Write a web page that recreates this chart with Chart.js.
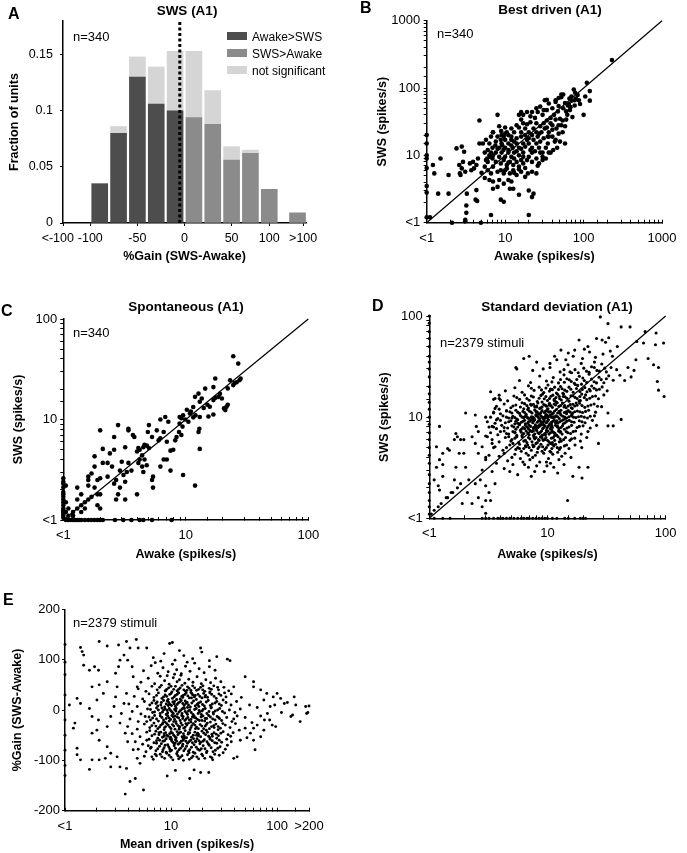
<!DOCTYPE html>
<html>
<head>
<meta charset="utf-8">
<script src="https://cdn.jsdelivr.net/npm/chart.js"></script>
<style>
  body { margin: 0; background: #fff; }
  #fig { position: relative; width: 687px; height: 853px; font-family: "Liberation Sans", Arial, Helvetica, sans-serif; color: #000; overflow: hidden; }
  #fig canvas { position: absolute; }
  .t { position: absolute; white-space: nowrap; line-height: 1; }
  .letter { font-weight: bold; font-size: 16px; }
  .title { font-weight: bold; font-size: 13.5px; transform: translateX(-50%); }
  .n { font-size: 13px; }
  .leg { font-size: 12px; }
  .sw { position: absolute; width: 20px; height: 8px; }
</style>
</head>
<body>
<div id="fig">
  <canvas id="cA" width="340" height="270" style="left:0;top:0"></canvas>
  <canvas id="cB" width="347" height="270" style="left:340px;top:0"></canvas>
  <canvas id="cC" width="340" height="285" style="left:0;top:280px"></canvas>
  <canvas id="cD" width="347" height="285" style="left:340px;top:280px"></canvas>
  <canvas id="cE" width="340" height="288" style="left:0;top:565px"></canvas>

  <div class="t letter" style="left:8px;top:6px">A</div>
  <div class="t letter" style="left:360px;top:0px">B</div>
  <div class="t letter" style="left:1px;top:303px">C</div>
  <div class="t letter" style="left:372px;top:298px">D</div>
  <div class="t letter" style="left:3px;top:592px">E</div>

  <div class="t title" style="left:187px;top:4px">SWS (A1)</div>
  <div class="t title" style="left:550px;top:3px">Best driven (A1)</div>
  <div class="t title" style="left:186px;top:300px">Spontaneous (A1)</div>
  <div class="t title" style="left:557px;top:300px">Standard deviation (A1)</div>

  <div class="t n" style="left:73px;top:30px">n=340</div>
  <div class="t n" style="left:437px;top:27px">n=340</div>
  <div class="t n" style="left:73px;top:326px">n=340</div>
  <div class="t n" style="left:440px;top:336px">n=2379 stimuli</div>
  <div class="t n" style="left:73px;top:616px">n=2379 stimuli</div>

  <div class="sw" style="left:227px;top:32px;background:#4d4d4d"></div>
  <div class="sw" style="left:227px;top:49px;background:#8b8b8b"></div>
  <div class="sw" style="left:227px;top:66px;background:#d5d5d5"></div>
  <div class="t leg" style="left:252px;top:31px">Awake&gt;SWS</div>
  <div class="t leg" style="left:252px;top:48px">SWS&gt;Awake</div>
  <div class="t leg" style="left:252px;top:65px">not significant</div>
</div>

<script>
// ---- A: histogram of %gain (fractions of 340 units)
const gainBins = [-90, -70, -50, -30, -10, 10, 30, 50, 70, 90, 120];
const awakeGreater = [0.035, 0.080, 0.130, 0.106, 0.100, null, null, null, null, null, null];
const swsGreater = [null, null, null, null, null, 0.094, 0.088, 0.056, 0.062, 0.030, 0.009];
const notSignificant = [0, 0.006, 0.018, 0.033, 0.053, 0.059, 0.030, 0.012, 0.003, 0, 0];
const gainTickValues = [-129, -100, -50, 0, 50, 90, 126];
const gainTickLabels = ['<-100   ', '-100', '-50', '0', '50', '100', '>100'];
const fractionTicks = [0, 0.05, 0.1, 0.15];
const medianGain = -5;

// ---- B: best driven rate, [awake, sws] spikes/s
const bestDriven = [
  [230,260],[110,120],[120,90],[105,75],[120,65],[100,40],
  [75,95],[78,85],[66,70],[70,65],[58,60],[63,55],[72,37],
  [52,80],[52,73],[44,62],[48,54],[40,50],
  [32,66],[34,47],[28,53],[30,40],[26,44],[22,44],[24,36],[21,38],[19,44],[17,40],[15,40],[16,34],[21,31],[25,30],[28,27],[32,25],[36,22],[40,28],[44,34],[48,28],[54,22],[58,27],[54,33],[48,21],[44,17],[40,19],[35,15],[31,18],[27,21],[25,22],[22,20],[20,22],[18,25],[16,22],[15,26],[13,22],[12,19],[12,17],[10.5,22],[9.6,19],[8.8,17],[8,19],[7,22],[6.6,19],[6.3,15],[6.9,13],[7.6,16],[8.4,13],[9.2,14],[10,13],[11,15],[12.5,13],[14,15],[15,13],[17,15],[19,17],[20,15],[22,13],[25,15],[27,13],[30,11],[33,13],[36,11],[41,12],[46,13],[50,16],[36,19],
  [17,11],[15,10],[13,11],[12,9.5],[11,11],[10,9.5],[9,11],[8.4,9.5],[7.6,11],[6.9,9],[6.3,10],[5.7,8.5],[7.6,8],[8.8,7.6],[9.6,8.5],[10.5,7.2],[11.5,8],[12.7,7.2],[14,8],[15,6.8],[17,7.6],[19,8.5],[20,9.5],[22,11],[25,9],[27,7.6],[30,9.5],[33,9],[38,11],[43,16],[58,15],
  [7,6.8],[8,5.7],[8.8,6],[9.6,5.4],[10.5,6.4],[11.5,5.4],[12.7,6],[14,5.1],[16,5.7],[18,4.8],[19.5,5.4],[22,5.7],[25,5.4],[26,7],[30,8.5],[17,9.5],[15,6.2],
  [5.5,4.6],[6.3,4.3],[7,4.1],[8.4,4.3],[9.6,3.8],[11,4.3],[12,4.1],[6.6,5.4],[6,6],[11.5,3.2],[8,3.4],[7,3.2],[12.7,3.2],[20,3],[23,2.7],[22,2.4],[15,2.6],[8.8,2.2],[9.6,2.05],[4.3,3.05],[4.2,2.2],[4.4,2.1],[3.2,1.8],[3.2,1.4],[3.1,1.1],[6.6,1.3],[20,1.3],[2.1,1],[3.1,1.05],[4.9,1],[1.1,1.2],
  [1.2,7.2],[1.25,5.4],[1.4,2.7],[1.5,9],[1.9,5.1],[1.9,2.7],[2.4,12.7],[2.6,7.2],[2.65,5.4],[2.8,13.5],[3,11.3],[2.9,8],[2.8,6.4],[2.7,5.1],[3.1,5.7],[3.25,2.7],[3.55,7.6],[3.9,8],[4,6.4],[4.3,7.2],[3.7,6],[4.5,9],[4.7,15],[5.2,15],[4.7,33],[5.7,17],[6,12],[5.9,9],[5.5,6.8],[6.6,11],[7,22],[8,40],[8.4,27],[8.9,23],[10,21],[11,20],
  [1,20],[1,15],[1,10],[1,9],[1,6.5],[1,3.5],[1,2.8],[1,1.2],
  [16,44],[25,50],[31,47],[34,67],[36,59],[44,66],[48,71],[55,80],[77,66],[84,79],[77,55],[70,75],[67,47],[87,66],
  [9,15],[10,17],[11,12],[12,14],[13,16],[14,18],[16,19],[18,20],[20,18],[23,17],[26,19],[29,22],[31,30],[34,33],[38,36],[42,40],[47,45],[55,50],[60,45],[65,58],
  [13,9],[14,11.5],[16,12.5],[18,13.5],[21,12],[24,11.5],[28,16],[34,26],[38,30],[45,25],[50,35],[62,40],[68,52],[80,70],[90,58],
  [9.5,12],[8,12.5],[7,10],[6,8],[5,5.5],[10,6],[11,7.8],[13,5.5],[16,8.5],[18,6.5],[22,8],[28,11],[35,19],[40,24],[52,28],[60,34],
  [23,25],[19,29],[17,30],[14,28],[12,25],[10,26],[9,20],[7.5,14],[6.5,9.5],[5.5,11]
];

// ---- C: spontaneous rate, [awake, sws] spikes/s
const spontaneous = [
  [24.4,42.6],[26.8,36],[23,24.6],[24.4,22],[27.4,24.6],[28,25.5],[22,20.4],[21.5,13.4],[20.5,12.9],[22,14],[21,12.4],
  [17.4,25.6],[16.8,21],[18.5,16.8],[19.7,16.2],[16.8,15.6],[15.7,13.4],[16.8,11.2],[15.3,10.7],[14.4,20.3],[12.7,18.1],[13.5,16.2],[11.9,16.8],[11.5,13.3],[13,15],
  [13,10.6],[12.9,8.1],[12.7,7.5],[13,5.1],[11.9,2.2],[9.5,2.8],
  [10.2,12.5],[9.5,11],[8.9,10.6],[9.2,10.3],[9.9,10],[10.5,9.5],[8.9,9.1],[9.4,8.5],[8.8,7.5],[9.2,7],[8.4,6.7],[8.2,6.2],[7.9,5],[7.5,4.9],[7,6],[7.2,9.5],[6.8,10.6],[6.2,10],[5.8,7.8],[6.6,7.5],[6.2,6.5],[6,6.2],[7,4],[7.5,3.1],[6.6,4],[6.2,3.4],[5.4,2.7],[5.3,2.5],[5.4,2.1],[5,8.8],[5.3,6.7],[4.9,7.5],[4.5,5.3],[4.2,5],[4.1,5.2],[4,4.8],[4.4,4.4],[4.6,4],[4.8,3.5],[4.2,4],[4.1,3.7],[4.5,3],[4.4,3.4],[3.8,6.7],[3.7,7],[3.4,7.8],[3.4,8.1],[2.8,8.8],[2.6,6.7],[2,7.8],[3.2,5.3],[3,3.8],[3.4,3.7],[3.6,3.1],[3.3,3],[3.1,2.8],[2.9,3.1],[2.7,2.5],[2.6,2.3],[2.9,2.1],[3.2,2.4],[2.8,1.8],[2.7,1.6],[3.2,1.6],[4,1.8],[2.4,4.6],[2.3,3.7],[2.1,3.7],[2.5,3.4],[2.6,5],[2.1,5.1],[2.3,2.7],[2,2.6],[1.9,2.5],[1.8,4.3],[1.8,3.4],[1.7,2.9],[1.6,2.7],[1.6,2.5],[1.6,2.2],[1.8,2.1],[2,1.8],[1.9,1.8],[1.7,1.7],[1.6,1.6],[1.5,1.5],[1.4,1.8],[1.3,2.1],[1.3,1.6],[1.5,1.3],[1.4,1.2],[1.3,1.3],[1.2,1.2],[1.2,1.1],[1.1,1.3],[1.1,1.1],[1.2,1.1],[2,1.3],[1.9,1.4],[1.4,1.4],
  [11,12],[12,11],[10.8,11.5],[11.5,10.5],[14,13],[15,14],[17.5,16.5],[19,18],[25,23],[26,23.5],[4.8,5.5],[5,5.2],[4.6,5.6],
  [1,2.6],[1,2.4],[1,2.3],[1,2.1],[1,1.9],[1,1.8],[1,1.7],[1,1.6],[1,1.5],[1,1.4],[1,1.3],[1,1.25],[1,1.2],[1,1.15],[1,1.1],[1,1.05],[1.05,2.2],[1.05,1.5],[1.05,1.2],
  [1.05,1],[1.1,1],[1.15,1],[1.2,1],[1.25,1],[1.3,1],[1.35,1],[1.4,1],[1.5,1],[1.6,1],[1.7,1],[1.8,1],[1.9,1],[2,1],[2.1,1],[2.64,1],[3.09,1],[3.6,1],[4.2,1],[4.5,1],[5.3,1],[7.65,1]
];

// ---- D: standard deviation per stimulus, [awake, sws] spikes/s
// sparse points round the cloud, the axes and the far corners
const sdSparse = [
  [28,98],[32.5,84],[42,78],[50,78],[67,70],[83,68],[82,52],[65,54],[57,56],[96,54],[79,33],[87,31],[85,22.5],[97,16],[87,18.5],[71,38],[56,37],[54,29],[48,31],[51,25],[45,23],[41,26],[33,61],[31,55],[29,58],[26,60],[39,50],[34,45],[22,50],[17,46],[18.5,58],[15,43],[13,46],[11.5,40],[14.3,37],[10.5,34],[8.1,35],[6.3,38],[5.5,30],[7,40],[5.4,31],[9.2,30],
  [42,9.5],[36,8.2],[32.5,8.2],[27,5.5],[23,10.2],[28.7,12.7],[32.5,11],[19.6,2.5],[16.4,2.6],[14.8,1.5],[18.5,3.2],[22,3.2],
  [1.15,5.1],[1.22,3.8],[1.3,2.6],[1.22,1.9],[1.39,1.6],[1.53,1.8],[1.63,2.4],[1.68,3.2],[1.48,4.7],[1.43,4.9],[1.68,6.9],[1.73,6.4],[1.84,6],[1.79,4.4],[1.96,6],[1.96,4.4],[2.03,3.2],[2.16,2.4],[2.1,1.8],[1.9,1.4],[2.3,1.4],[2.03,11],[2.45,10.5],[2.5,8.1],[2.6,7.2],[2.3,6.4],[2.45,5.5],[2.6,4.4],[2.8,5.1],[3,3.8],[2.8,3],[2.45,2.2],[2.7,2.4],[3,2.1],[3.2,1.8],[3.3,1.5],[3,1.5],[2.6,1.6],[3.6,2.2],[3.4,2.9],[3.7,3.5],[3.2,4.2],[3.4,5.5],[3.1,6.4],[3.4,8.1],[3.7,9.4],[3.6,12.2],[3.6,15.3],[3.9,16.5],[3.3,17.8],[4,14.8],[1.63,6],[1.22,8.1],[1.3,4.4],[1.04,1.1],[1.1,1.2],[1.19,1.3],[1.26,1.4],[1.43,1.6],[1.58,1.8],[1.73,2],[1.84,2.2],[1.15,3.2],[1.3,3.4],[1.1,2.4],[1.19,2.1],[2.8,1.3],[3,1.12],
  [3.5,5],[3.5,8],[3.5,11],[3.5,15],[3,4],[3,6.5],[3,10],
  [1,1.1],[1,1.3],[1,1.5],[1,1.8],[1,2.2],[1,2.7],[1,3.5],[1,4.2],[1,5],[1,6],[1,7],[1,8.5],[1,10],[1,12],[1,14],[1,17],[1,20],[1,25],[1,30],[1,35],[1,40],[1,50],[1,60],[1,70],[1,85],[1,100],
  [1.1,1],[1.3,1],[1.5,1],[2.8,1],[3,1],[3.2,1],[3.5,1],[3.8,1],[4,1],[4.2,1],[4.5,1],[4.8,1],[5.2,1],[5.6,1],[6,1],[6.3,1],[6.7,1],[7,1],[7.5,1],[8,1],[8.5,1],[9,1],[9.5,1],[10,1],[11,1],[12,1],[14,1],[15,1],[17,1],[19,1],[20,1],[21,1]
];
// dense cloud of D, read band by band from low to high sws
const sdCloud = [
  [4.3,3.1],[5.6,2.7],[6.4,3.4],[7.3,2.6],[8.1,3.3],[9.4,2.9],[10.6,3.5],[12.2,2.8],[5.1,3.4],[7.8,2.9],[11.3,3.2],[13.8,3.4],[6.9,3.2],[9.9,3.3],[4.8,2.9],
  [3.9,4.1],[4.6,3.7],[5.3,4.3],[5.9,3.9],[6.6,4.4],[7.1,3.8],[7.9,4.2],[8.6,3.6],[9.3,4.4],[10.2,3.9],[11.1,4.3],[12.5,3.8],[14.1,4.4],[15.8,4.0],[5.0,4.0],[6.2,3.6],[8.2,4.5],[9.8,3.6],[13.2,4.1],[4.3,4.4],[7.5,4.0],[10.7,4.5],
  [3.6,5.1],[4.2,4.7],[4.8,5.3],[5.4,4.8],[5.8,5.4],[6.3,4.9],[6.8,5.3],[7.3,4.7],[7.7,5.2],[8.3,4.9],[8.8,5.4],[9.5,4.8],[10.1,5.3],[10.9,4.9],[11.7,5.4],[12.6,4.8],[13.9,5.2],[15.2,4.9],[17.1,5.3],[19.5,5.0],[4.5,5.0],[5.1,5.5],[6.0,4.6],[7.0,5.0],[8.0,5.5],[9.1,5.1],[10.5,4.6],[11.3,5.2],[12.1,5.0],
  [3.4,6.0],[3.9,5.7],[4.4,6.3],[4.9,5.8],[5.3,6.2],[5.7,5.6],[6.1,6.4],[6.5,5.9],[6.9,6.3],[7.4,5.7],[7.8,6.1],[8.2,5.6],[8.7,6.4],[9.2,5.9],[9.7,6.3],[10.3,5.7],[10.8,6.2],[11.5,5.9],[12.3,6.4],[13.1,5.8],[14.2,6.3],[15.5,5.9],[17.0,6.2],[19.0,5.8],[21.5,6.3],[5.5,6.4],[6.7,5.6],[8.0,6.3],[9.5,6.0],[11.0,5.6],[12.8,6.1],
  [3.3,7.0],[3.8,6.7],[4.3,7.3],[4.7,6.8],[5.1,7.2],[5.5,6.6],[5.9,7.4],[6.3,6.9],[6.6,7.3],[7.0,6.7],[7.4,7.2],[7.8,6.8],[8.1,7.4],[8.5,6.9],[8.9,7.3],[9.3,6.7],[9.8,7.1],[10.3,6.8],[10.9,7.4],[11.6,6.9],[12.4,7.3],[13.3,6.8],[14.4,7.2],[15.7,6.9],[17.3,7.3],[19.3,6.8],[22.0,7.2],[6.1,6.6],[7.6,6.6],[9.0,6.6],[10.6,7.0],[12.0,6.6],[4.0,7.2],[8.3,7.0],[11.2,7.1],
  [3.2,8.0],[3.7,7.7],[4.1,8.3],[4.6,7.8],[5.0,8.2],[5.4,7.6],[5.8,8.4],[6.2,7.9],[6.5,8.3],[6.9,7.7],[7.2,8.1],[7.6,7.8],[7.9,8.4],[8.3,7.9],[8.7,8.3],[9.1,7.7],[9.5,8.2],[9.9,7.8],[10.4,8.4],[11.0,7.9],[11.7,8.3],[12.5,7.7],[13.4,8.2],[14.6,7.8],[16.0,8.3],[17.8,7.9],[20.0,8.2],[23.0,7.8],[26.0,8.3],[5.2,8.0],[6.7,8.0],[8.0,7.6],[9.3,8.4],[10.7,8.1],[12.1,8.0],[13.9,7.6],
  [3.1,9.0],[3.6,8.7],[4.0,9.3],[4.4,8.8],[4.9,9.2],[5.3,8.6],[5.6,9.4],[6.0,8.9],[6.4,9.3],[6.8,8.7],[7.1,9.1],[7.5,8.8],[7.8,9.4],[8.2,8.9],[8.6,9.3],[9.0,8.7],[9.4,9.2],[9.8,8.8],[10.2,9.4],[10.8,8.9],[11.4,9.3],[12.2,8.7],[13.1,9.2],[14.1,8.8],[15.3,9.3],[16.8,8.9],[18.6,9.2],[20.8,8.8],[24.0,9.3],[5.8,8.6],[7.3,9.4],[8.8,9.0],[10.5,8.6],[11.9,9.0],[13.6,9.4],
  [3.3,10.0],[3.8,9.7],[4.2,10.3],[4.7,9.8],[5.1,10.2],[5.5,9.6],[5.9,10.4],[6.3,9.9],[6.6,10.3],[7.0,9.7],[7.3,10.1],[7.7,9.8],[8.0,10.4],[8.4,9.9],[8.8,10.3],[9.2,9.7],[9.6,10.2],[10.0,9.8],[10.5,10.4],[11.1,9.9],[11.8,10.3],[12.6,9.7],[13.5,10.2],[14.6,9.8],[15.9,10.3],[17.4,9.9],[19.3,10.2],[21.8,9.8],[25.0,10.3],[6.1,10.0],[8.6,9.6],[9.9,10.5],[11.5,10.0],[13.0,10.5],
  [3.5,11.2],[4.0,10.8],[4.5,11.6],[5.0,11.0],[5.4,11.7],[5.8,10.9],[6.2,11.4],[6.6,10.7],[7.0,11.5],[7.4,11.0],[7.8,11.8],[8.2,11.2],[8.6,10.8],[9.0,11.6],[9.4,11.1],[9.9,11.8],[10.4,11.2],[10.9,10.7],[11.5,11.5],[12.2,11.0],[13.0,11.7],[13.9,11.1],[15.0,11.6],[16.3,11.0],[17.9,11.5],[19.8,11.1],[22.3,11.7],[25.5,11.2],[6.8,11.9],[8.0,10.6],[9.7,10.6],[11.9,11.9],[14.5,10.8],
  [3.7,12.8],[4.3,13.5],[4.9,12.4],[5.4,13.2],[5.9,12.6],[6.4,13.6],[6.9,12.3],[7.3,13.1],[7.8,12.7],[8.3,13.8],[8.8,12.4],[9.3,13.3],[9.8,12.8],[10.4,13.7],[11.0,12.5],[11.7,13.2],[12.5,12.8],[13.4,13.8],[14.4,12.4],[15.6,13.3],[17.0,12.9],[18.7,13.7],[20.7,12.5],[23.3,13.2],[26.5,12.8],[6.1,13.9],[8.6,12.2],[10.1,12.1],[12.1,13.9],[14.0,13.0],[16.2,12.2],
  [3.9,15.3],[4.6,14.5],[5.2,16.2],[5.8,15.0],[6.4,16.6],[7.0,14.7],[7.6,15.8],[8.2,14.3],[8.8,16.4],[9.4,15.2],[10.0,14.6],[10.7,16.1],[11.4,15.0],[12.2,16.8],[13.1,14.8],[14.1,15.9],[15.2,14.4],[16.4,16.3],[17.8,15.3],[19.5,16.9],[21.5,14.9],[24.0,16.0],[27.0,15.2],[30.0,16.6],[9.1,16.9],[11.8,14.2],[13.7,16.9],[18.5,14.5],
  [4.4,18.2],[5.3,19.5],[6.1,17.6],[6.9,20.4],[7.7,18.4],[8.5,19.8],[9.3,17.5],[10.1,20.8],[11.0,18.7],[11.9,17.3],[12.9,20.1],[14.0,18.5],[15.2,19.8],[16.5,17.6],[18.0,20.6],[19.7,18.8],[21.6,17.8],[23.7,20.3],[26.0,18.6],[29.0,19.9],[32.0,18.2],[10.6,19.0],[13.5,17.2],[17.2,21.0],
  [5.8,23.0],[7.2,22.0],[8.6,25.5],[9.8,22.8],[11.2,24.6],[12.4,21.8],[13.8,26.2],[15.3,23.4],[16.9,21.6],[18.6,25.4],[20.5,23.0],[22.5,26.6],[24.8,22.4],[27.3,24.8],[30.0,21.9],[33.0,25.6],[36.0,23.2],[19.4,21.2],[14.6,24.0],
  [7.5,29.0],[10.5,31.0],[12.8,28.0],[14.9,33.0],[17.1,29.5],[19.3,34.0],[21.4,28.5],[23.6,31.5],[26.2,29.0],[28.8,33.5],[31.5,28.0],[34.5,31.0],[38.5,29.5],[16.0,27.5],[25.0,35.0],
  [12.0,37],[16.5,40],[19.8,38],[22.7,44],[25.5,39],[29.5,42],[35.5,40],[20.5,47],
  [6.0,7.6],[6.5,8.6],[7.1,7.4],[7.4,9.6],[7.9,8.1],[8.4,10.7],[8.9,8.4],[9.3,9.9],[9.8,7.4],[10.2,11.3],[10.8,8.6],[11.3,10.1],[12.0,9.2],[12.8,10.9],[13.6,8.6],[14.8,11.4],[16.1,10.6],[5.3,7.1],[5.6,8.7],[6.8,9.9],[7.7,6.3],[8.5,5.9],[9.6,6.7],[10.6,7.7],[11.5,6.6],[12.9,7.2],[14.1,9.6],[15.9,12.4],[17.5,13.8],[19.0,14.6],[21.0,16.6],[23.0,18.2],[6.3,12.1],[7.2,13.4],[8.1,12.6],[9.0,14.1],[10.3,13.1],[11.4,14.6],[12.6,16.0],[4.7,6.4],[5.0,9.8],[4.5,11.5],[3.9,12.0],[6.9,4.2],[7.6,5.1],[9.0,4.6],[10.6,5.5],[12.2,4.5],[5.8,4.9],[6.5,5.2]
];
// darkest middle of the D cloud
const sdCloudInner = [
  [5.6,5.0],[6.6,5.1],[7.5,5.3],[8.5,5.1],[9.8,5.0],[11.0,5.4],[12.9,5.0],[14.5,5.3],
  [5.0,6.0],[6.3,5.8],[7.1,6.1],[8.4,6.0],[9.0,6.2],[10.0,5.9],[11.2,6.3],[12.6,5.7],[13.7,6.0],[16.0,6.1],
  [4.5,6.9],[5.3,7.0],[6.0,7.1],[6.8,7.0],[7.6,7.3],[8.7,7.1],[9.5,6.9],[10.1,7.3],[11.4,7.0],[12.8,7.1],[14.9,7.0],[16.5,7.2],
  [4.3,7.9],[5.6,8.0],[6.4,7.7],[7.0,8.3],[7.7,8.0],[8.5,8.1],[9.3,7.9],[10.1,8.1],[10.9,8.2],[12.2,8.1],[13.0,7.9],[15.2,8.0],[18.6,8.1],
  [4.7,9.0],[5.4,9.1],[6.2,9.1],[6.9,9.0],[7.6,9.1],[8.4,9.2],[9.2,8.9],[10.0,9.1],[11.1,9.1],[11.7,8.8],[12.7,9.0],[14.6,9.1],[16.0,9.0],[19.6,9.0],
  [4.5,10.0],[5.3,9.9],[6.4,10.1],[6.8,9.8],[7.5,10.0],[8.2,10.2],[9.0,10.0],[9.4,9.9],[10.2,10.1],[10.8,10.0],[12.2,10.1],[14.0,10.0],[15.2,10.1],[16.6,10.0],[18.3,10.1],[20.5,10.0],
  [4.8,11.3],[5.6,11.2],[6.4,11.1],[7.2,11.3],[8.0,11.4],[8.8,11.1],[9.6,11.4],[10.6,11.3],[11.2,11.0],[12.6,11.4],[14.4,11.3],[15.6,11.2],[17.0,11.3],[18.8,11.3],[21.0,11.4],
  [5.1,12.9],[6.7,13.0],[7.6,13.4],[8.1,12.9],[9.0,12.6],[9.6,13.1],[10.7,13.0],[11.4,13.5],[12.9,13.0],[13.8,12.6],[15.0,12.9],[16.4,13.4],[17.8,13.1],[19.6,13.0],[22.0,12.9],[24.8,13.5],
  [5.5,15.6],[6.7,15.3],[7.3,16.2],[8.5,15.4],[9.7,16.0],[10.4,15.3],[11.1,16.5],[11.8,15.6],[12.7,15.2],[13.6,16.0],[14.6,15.4],[15.8,16.3],[17.1,15.7],[18.8,16.0],[20.5,15.6],[22.8,15.4],[25.5,16.2],
  [7.3,19.3],[8.9,18.6],[9.7,19.4],[10.4,18.1],[11.5,19.8],[12.4,18.8],[13.3,19.1],[14.6,18.0],[15.8,18.9],[17.6,19.2],[18.8,17.9],[20.7,19.6],[22.6,18.9],[24.8,19.3],[27.5,18.9],
  [10.9,22.3],[12.9,23.6],[13.9,22.1],[15.9,22.5],[17.7,23.6],[19.9,24.4],[21.5,22.0],[23.6,23.8],[26.0,21.8],[28.5,23.5],[31.5,24.0],
  [13.8,29.5],[15.5,28.0],[18.2,27.5],[20.3,30.5],[22.5,27.8],[24.9,31.0],[27.5,28.5],[30.5,30.5]
];

// ---- E: %gain vs mean driven rate, [mean driven spikes/s, %gain]
const gainSparse = [
  [3.7,-167],[4.1,-142],[5.5,-159],[4.6,-136],[9.2,-131],[11,-120],[15,-136],[19,-124],[22.7,-124],[16.5,-119],[1.7,-118],[1.8,-99],[1.3,-76],[1.3,-89],[1.4,-99],[1.1,10],[1.24,-26],[1.2,-36],[1.4,13],[1.3,23],[1.4,124],[1.5,109],[1.45,116],[2.1,136],[2.5,127],[3.2,129],[3.8,136],[4.7,140],[4.1,123],[4.9,123],[5.9,123],[9.7,132],[19,123],[27,106],[34,101],[36,98],[10.3,134],
  [145,26],[150,10],[186,7],[190,-7],[165,-23],[140,-10],[135,-13],[108,23],[117,13],[100,33],[92,26],[86,7],[81,-7],[76,-20],[65,-30],[60,-36],[56,-46],[50,-36],[45,-60],[62,-79],[42,-93],[39,-96],[60,46],[70,40],[80,33],[50,66],[60,56],[39,46],[90,-30],[97,-33],[75,-40],[70,-53],[60,-60],[200,8],[195,-5],
  [1.5,89],[1.7,79],[1.9,86],[2.07,79],[1.8,46],[2.1,50],[2.5,56],[2.3,33],[2,20],[1.7,3],[1.8,-13],[2.07,-20],[2,-40],[1.8,-46],[2.1,-60],[2.5,-73],[2.7,-86],[2.4,-96],[3.1,-93],[3.3,-113],[3.8,-116],[2.7,-113],[2.1,-99],[2.5,-33],[2.7,-13],[2.9,7],[3,26],[3.1,46],[3,73],[3.2,86],[3.3,99],[3.6,109],[3.9,99],[4.3,86],[4.4,66],[4.8,46],[3.8,33],[3.6,13],[3.4,-7],[3.3,-26],[3.7,-46],[3.9,-63],[4.4,-79],[4.8,-96],[5.1,-106],
  [1,130],[1,95],[1,70],[1,30],[1,-20],[1,-50],[1,-80],[1,-110],[1,-130]
];
// dense cloud of E, read band by band from low to high gain
const gainCloud = [
  [5.6,-92],[6.8,-98],[7.9,-88],[8.7,-96],[9.6,-90],[10.4,-99],[11.3,-87],[12.2,-94],[13.1,-100],[14.3,-89],[15.6,-95],[16.8,-86],[18.2,-97],[19.9,-91],[21.6,-85],[23.5,-93],[25.8,-88],[7.3,-91],[9.1,-86],[11.8,-97],[16.1,-92],[28.5,-90],
  [4.9,-78],[5.8,-83],[6.5,-74],[7.2,-81],[7.8,-72],[8.4,-79],[9.0,-84],[9.5,-73],[10.1,-80],[10.7,-71],[11.5,-83],[12.3,-76],[13.2,-81],[14.0,-72],[15.0,-79],[16.2,-84],[17.3,-74],[18.6,-80],[20.1,-71],[21.8,-82],[23.9,-75],[26.2,-80],[29.0,-73],[32.5,-78],[6.1,-71],[8.8,-70],[12.8,-72],[19.3,-77],
  [4.6,-63],[5.4,-68],[6.2,-58],[6.9,-65],[7.5,-56],[8.1,-67],[8.7,-61],[9.3,-69],[9.8,-57],[10.4,-64],[11.0,-59],[11.7,-68],[12.5,-62],[13.4,-56],[14.3,-66],[15.3,-60],[16.5,-69],[17.6,-57],[19.0,-64],[20.6,-59],[22.4,-67],[24.5,-61],[27.0,-56],[30.0,-64],[33.5,-58],[37.0,-63],[7.8,-60],[10.9,-66],[13.8,-62],[18.3,-61],[5.9,-60],
  [4.3,-47],[5.1,-53],[5.9,-44],[6.6,-51],[7.2,-42],[7.7,-49],[8.3,-54],[8.9,-45],[9.4,-52],[10.0,-43],[10.6,-50],[11.2,-55],[11.9,-46],[12.7,-53],[13.6,-41],[14.5,-48],[15.6,-54],[16.8,-44],[18.1,-51],[19.6,-42],[21.2,-49],[23.2,-55],[25.4,-45],[28.0,-51],[31.0,-43],[34.5,-49],[38.5,-45],[6.3,-41],[9.7,-47],[13.1,-47],[17.4,-50],[22.0,-44],
  [3.9,-33],[4.8,-38],[5.6,-28],[6.3,-35],[6.9,-26],[7.5,-37],[8.0,-30],[8.6,-39],[9.1,-27],[9.7,-34],[10.3,-29],[10.9,-38],[11.6,-31],[12.4,-26],[13.2,-36],[14.1,-30],[15.1,-39],[16.2,-27],[17.4,-34],[18.8,-29],[20.3,-37],[22.0,-26],[24.1,-33],[26.5,-28],[29.2,-36],[32.5,-30],[36.0,-35],[40.5,-27],[8.4,-25],[11.9,-38],[15.7,-31],[21.0,-32],[27.8,-39],
  [4.1,-18],[4.9,-23],[5.7,-13],[6.4,-20],[7.0,-11],[7.6,-22],[8.2,-15],[8.8,-24],[9.3,-12],[9.9,-19],[10.5,-14],[11.1,-23],[11.8,-16],[12.6,-11],[13.5,-21],[14.4,-15],[15.4,-24],[16.5,-12],[17.8,-19],[19.2,-14],[20.8,-22],[22.6,-11],[24.7,-18],[27.2,-13],[30.0,-21],[33.5,-15],[37.5,-23],[42.0,-12],[6.7,-16],[9.6,-16],[12.9,-17],[17.0,-23],[23.5,-24],
  [4.3,-3],[5.2,-8],[6.0,2],[6.7,-5],[7.3,4],[7.9,-7],[8.5,0],[9.0,-9],[9.6,3],[10.2,-4],[10.8,1],[11.5,-8],[12.3,-1],[13.1,4],[14.0,-6],[15.0,0],[16.1,-9],[17.3,3],[18.6,-4],[20.1,1],[21.8,-7],[23.8,4],[26.1,-2],[28.8,3],[32.0,-6],[35.5,0],[40.0,-5],[45.0,2],[8.2,4],[11.1,-2],[14.6,-2],[19.3,-9],
  [4.0,12],[4.8,7],[5.6,17],[6.3,10],[6.9,19],[7.5,8],[8.1,15],[8.7,6],[9.2,18],[9.8,11],[10.4,16],[11.0,7],[11.7,14],[12.5,19],[13.3,9],[14.2,15],[15.2,6],[16.3,18],[17.6,11],[19.0,16],[20.6,8],[22.4,19],[24.5,12],[27.0,17],[29.8,9],[33.0,15],[36.8,10],[41.5,17],[7.2,13],[10.7,12],[13.8,13],[18.3,7],
  [4.5,27],[5.4,22],[6.2,32],[6.9,25],[7.6,34],[8.2,23],[8.8,30],[9.4,21],[10.0,33],[10.7,26],[11.4,31],[12.2,22],[13.0,29],[13.9,34],[14.9,24],[16.0,30],[17.3,21],[18.7,27],[20.3,33],[22.1,25],[24.2,31],[26.7,23],[29.5,29],[33.0,26],[37.0,32],[9.1,27],[12.6,27],[15.7,33],
  [4.9,42],[5.8,37],[6.6,47],[7.4,40],[8.1,49],[8.8,38],[9.5,44],[10.2,36],[11.0,47],[11.8,41],[12.7,49],[13.7,37],[14.8,43],[16.0,48],[17.4,39],[19.0,45],[20.8,37],[22.9,43],[25.3,48],[28.0,40],[31.5,45],[35.0,38],[10.6,41],[14.3,46],
  [5.2,55],[6.1,63],[7.0,52],[7.9,67],[8.7,58],[9.6,51],[10.5,64],[11.4,56],[12.4,69],[13.5,53],[14.7,61],[16.1,55],[17.6,66],[19.3,52],[21.3,60],[23.6,54],[26.3,63],[29.5,56],[9.2,68],[12.0,60],
  [5.5,78],[6.5,88],[7.5,73],[8.4,84],[9.4,76],[10.3,91],[11.3,80],[12.5,72],[13.7,87],[15.1,77],[16.7,93],[18.4,82],[20.5,74],[23.0,86],[26.0,79],[7.1,94],[10.8,71],[14.2,95],
  [6.8,104],[8.6,112],[10.9,99],[13.2,108],[16.0,102],[19.5,115],[23.0,98],[8.0,97],[12.0,118],
  [8.3,-83],[9.7,-77],[11.6,-91],[12.9,-68],[14.8,-85],[17.1,-63],[19.5,-88],[22.9,-70],[8.6,-52],[10.1,-58],[11.4,-43],[13.0,-60],[14.6,-45],[16.3,-57],[18.1,-48],[20.0,-62],[24.5,-52],[27.0,-66],[8.7,-35],[10.6,-23],[12.1,-33],[13.8,-27],[15.4,-19],[17.0,-37],[19.6,-21],[21.5,-40],[25.5,-35],[9.2,-1],[10.9,-12],[12.7,-7],[14.3,5],[16.6,-15],[18.4,-1],[21.0,-17],[25.1,-8],[28.0,-15],[9.4,9],[11.3,21],[13.4,3],[15.6,24],[17.9,12],[20.9,26],[24.0,5],[31.0,20],[8.9,38],[11.7,34],[14.1,39],[16.9,29],[19.9,40],[23.3,36],[27.5,45],[32.0,34],[7.7,-45],[7.1,-88],[6.4,-76],[5.9,-23],[7.3,-61],[6.6,-93],[24.3,-95],[31.0,-85],[34.0,-70],[36.5,-52],[39.0,-18],[44.0,-40],[46.0,25],[50.0,-15],[55.0,10],[52.0,-55],[58.0,-25],[65.0,5],[70.0,-12],[75.0,20],[85.0,-20],[95.0,10],[110,-5],[125,15]
];
// darkest middle of the E cloud
const gainCloudInner = [
  [8.2,-93],[10.0,-94],[12.7,-91],[14.9,-98],[17.5,-93],[20.8,-96],[24.7,-99],
  [7.5,-77],[8.6,-75],[9.8,-82],[11.0,-76],[11.9,-79],[13.6,-77],[14.6,-82],[15.6,-74],[17.9,-78],[20.9,-77],[24.9,-83],[27.6,-76],
  [7.3,-66],[8.4,-62],[9.0,-57],[10.1,-61],[10.7,-67],[11.3,-62],[12.1,-65],[13.0,-57],[14.8,-63],[15.9,-65],[17.0,-62],[18.7,-67],[21.8,-63],[23.4,-58],[25.8,-65],[28.5,-60],
  [7.0,-48],[8.0,-44],[8.6,-47],[9.1,-50],[9.9,-54],[10.3,-46],[10.9,-53],[11.6,-49],[12.3,-44],[13.3,-52],[14.0,-55],[15.0,-45],[16.2,-50],[17.8,-46],[19.0,-53],[20.4,-46],[22.6,-52],[24.3,-48],[26.7,-48],[29.5,-46],
  [6.6,-31],[7.2,-32],[7.8,-34],[8.3,-28],[8.9,-33],[9.4,-30],[10.0,-37],[10.6,-32],[11.2,-27],[12.0,-35],[12.8,-30],[13.6,-34],[14.6,-26],[15.4,-35],[16.8,-30],[18.1,-37],[19.5,-32],[21.5,-29],[23.0,-37],[25.3,-31],[27.8,-33],[30.8,-27],
  [6.2,-14],[7.3,-18],[7.9,-12],[8.5,-20],[9.0,-17],[9.6,-22],[10.2,-11],[10.8,-19],[11.4,-14],[12.2,-21],[13.0,-13],[13.9,-18],[14.9,-20],[15.9,-14],[17.1,-16],[18.5,-21],[20.0,-12],[21.7,-17],[23.5,-14],[26.0,-20],[28.6,-17],
  [6.4,1],[7.0,-4],[7.6,0],[8.3,-4],[8.8,2],[9.3,-6],[9.9,-1],[10.5,-7],[11.2,3],[11.9,-4],[12.7,2],[13.6,-3],[14.3,-9],[15.5,-5],[16.7,1],[18.0,-7],[19.6,-2],[21.0,3],[22.8,-3],[25.0,-5],[27.5,0],[30.5,-3],
  [6.6,14],[7.4,16],[8.0,10],[8.5,19],[9.0,12],[9.5,15],[10.1,9],[10.8,17],[11.4,11],[12.1,16],[12.9,13],[13.6,18],[14.6,10],[15.7,14],[16.9,8],[18.2,14],[19.8,11],[21.5,16],[23.5,9],[26.0,14],[28.5,12],
  [7.3,29],[8.5,26],[9.7,31],[10.3,23],[11.0,29],[11.8,34],[12.9,25],[13.5,31],[14.4,28],[15.4,35],[16.6,26],[18.0,31],[19.6,24],[21.2,29],[23.2,34],[25.5,27],[28.3,32],
  [7.8,45],[9.1,41],[10.0,47],[11.4,38],[12.2,44],[13.2,40],[15.4,39],[16.7,44],[18.2,41],[20.0,48],[24.0,41]
];

const logTickLabels = { 1: '<1', 10: '10', 100: '100', 1000: '1000' };
const meanTickLabels = { 1: '<1', 10: '10', 100: '100', 200: '>200' };
const gainAxisTicks = [-200, -100, 0, 100, 200];

const FONT = '"Liberation Sans", Arial, Helvetica, sans-serif';
const DARK = '#4d4d4d', MID = '#8b8b8b', LIGHT = '#d5d5d5';

function toPoints(pairs) {
  return pairs.map(([x, y]) => ({ x, y }));
}

// one axis with a fixed box size so every plot area lands where the figure has it
function axis(o) {
  const a = {
    type: o.type,
    position: o.position,
    min: o.min,
    max: o.max,
    offset: false,
    afterFit: s => {
      if (o.position === 'bottom') s.height = o.size; else s.width = o.size;
    },
    grid: { offset: false, drawOnChartArea: false, drawTicks: true, tickLength: o.tickLength, color: '#000', lineWidth: 1 },
    border: { display: true, color: '#000', width: 1.5 },
    ticks: {
      color: '#000', font: { family: FONT, size: o.fontSize || 13 }, padding: o.pad,
      autoSkip: false, maxRotation: 0, minRotation: 0
    },
    title: {
      display: true, text: o.title, color: '#000',
      font: { family: FONT, size: 12.5, weight: 'bold' },
      padding: { top: o.titlePad, bottom: o.titlePad }
    }
  };
  if (o.labels) a.ticks.callback = o.labels;
  if (o.tickValues) a.afterBuildTicks = s => { s.ticks = o.tickValues.map(v => ({ value: v })); };
  if (o.stacked) a.stacked = true;
  return a;
}

function baseOptions(padding, xAxis, yAxis) {
  return {
    responsive: false,
    animation: false,
    events: [],
    layout: { padding, autoPadding: false },
    plugins: { legend: { display: false }, tooltip: { enabled: false } },
    scales: { x: xAxis, y: yAxis }
  };
}

function dots(data, r) {
  return { type: 'scatter', data, pointRadius: r, pointBackgroundColor: '#000', pointBorderWidth: 0, clip: false };
}
function diagonal(max) {
  return { type: 'line', data: [{ x: 1, y: 1 }, { x: max, y: max }], borderColor: '#000', borderWidth: 1.2, pointRadius: 0, clip: false };
}

// A
new Chart(document.getElementById('cA'), {
  type: 'bar',
  data: {
    datasets: [
      { label: 'Awake>SWS', data: gainBins.map((x, i) => ({ x, y: awakeGreater[i] })), backgroundColor: DARK, stack: 'units', barThickness: 16 },
      { label: 'SWS>Awake', data: gainBins.map((x, i) => ({ x, y: swsGreater[i] })), backgroundColor: MID, stack: 'units', barThickness: 16 },
      { label: 'not significant', data: gainBins.map((x, i) => ({ x, y: notSignificant[i] })), backgroundColor: LIGHT, stack: 'units', barThickness: 16 },
      { type: 'line', stack: 'median', order: -1, data: [{ x: medianGain, y: 0 }, { x: medianGain, y: 0.18 }],
        borderColor: '#000', borderWidth: 3, borderDash: [3, 2.5], pointRadius: 0, clip: false }
    ]
  },
  options: baseOptions({ left: 0, top: 21, right: 34, bottom: 0 },
    axis({ type: 'linear', position: 'bottom', min: -129, max: 129, size: 47, tickLength: 3, pad: 5, fontSize: 12.5,
      tickValues: gainTickValues, labels: v => gainTickLabels[gainTickValues.indexOf(v)] ?? '',
      title: '%Gain (SWS-Awake)', titlePad: 6 }),
    axis({ type: 'linear', position: 'left', min: 0, max: 0.18, size: 63, tickLength: 3, pad: 7, fontSize: 12.5,
      tickValues: fractionTicks, labels: v => String(v), stacked: true,
      title: 'Fraction of units', titlePad: 7.5 }))
});

// B
new Chart(document.getElementById('cB'), {
  type: 'scatter',
  data: { datasets: [diagonal(1000), dots(toPoints(bestDriven), 2.3)] },
  options: baseOptions({ left: 0, top: 20.7, right: 16, bottom: 0 },
    axis({ type: 'logarithmic', position: 'bottom', min: 1, max: 1000, size: 47.3, tickLength: -3, pad: 10.5,
      labels: v => logTickLabels[v] ?? '', title: 'Awake (spikes/s)', titlePad: 5.8 }),
    axis({ type: 'logarithmic', position: 'left', min: 1, max: 1000, size: 86.7, tickLength: 3, pad: 3.5,
      labels: v => logTickLabels[v] ?? '', title: 'SWS (spikes/s)', titlePad: 35.5 }))
});

// C
new Chart(document.getElementById('cC'), {
  type: 'scatter',
  data: { datasets: [diagonal(100), dots(toPoints(spontaneous), 2.3)] },
  options: baseOptions({ left: 0, top: 39, right: 31.7, bottom: 0 },
    axis({ type: 'logarithmic', position: 'bottom', min: 1, max: 100, size: 45, tickLength: -3, pad: 10.5,
      labels: v => logTickLabels[v] ?? '', title: 'Awake (spikes/s)', titlePad: 2.5 }),
    axis({ type: 'logarithmic', position: 'left', min: 1, max: 100, size: 63.3, tickLength: 3, pad: 3,
      labels: v => logTickLabels[v] ?? '', title: 'SWS (spikes/s)', titlePad: 11 }))
});

// D
new Chart(document.getElementById('cD'), {
  type: 'scatter',
  data: { datasets: [diagonal(100), dots(toPoints(sdSparse.concat(sdCloud, sdCloudInner)), 1.55)] },
  options: baseOptions({ left: 0, top: 36, right: 14.3, bottom: 0 },
    axis({ type: 'logarithmic', position: 'bottom', min: 1, max: 100, size: 46.7, tickLength: -3, pad: 10.5,
      labels: v => logTickLabels[v] ?? '', title: 'Awake (spikes/s)', titlePad: 2.5 }),
    axis({ type: 'logarithmic', position: 'left', min: 1, max: 100, size: 89.3, tickLength: 3, pad: 3.5,
      labels: v => logTickLabels[v] ?? '', title: 'SWS (spikes/s)', titlePad: 37.5 }))
});

// E
new Chart(document.getElementById('cE'), {
  type: 'scatter',
  data: { datasets: [dots(toPoints(gainSparse.concat(gainCloud, gainCloudInner)), 1.45)] },
  options: baseOptions({ left: 0, top: 44.3, right: 31, bottom: 0 },
    axis({ type: 'logarithmic', position: 'bottom', min: 1, max: 200, size: 42.3, tickLength: -3, pad: 10.5,
      labels: v => meanTickLabels[v] ?? '', title: 'Mean driven (spikes/s)', titlePad: 0.5 }),
    axis({ type: 'linear', position: 'left', min: -200, max: 200, size: 65, tickLength: 3, pad: 2,
      tickValues: gainAxisTicks, labels: v => String(v), title: '%Gain (SWS-Awake)', titlePad: 10.5 }))
});
</script>
</body>
</html>
